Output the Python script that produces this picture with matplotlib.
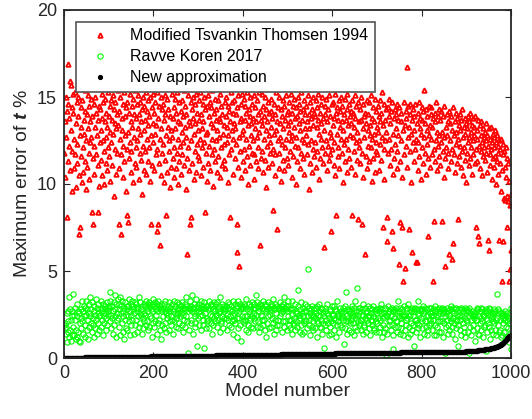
import numpy as np
import matplotlib
matplotlib.use("Agg")
import matplotlib.pyplot as plt

plt.rcParams['font.family'] = ['Liberation Sans', 'DejaVu Sans']
plt.rcParams['mathtext.fontset'] = 'custom'
plt.rcParams['mathtext.it'] = 'Liberation Sans:italic:bold'
plt.rcParams['mathtext.rm'] = 'Liberation Sans'

# max error per model (tenths of a percent), models 1..1000
red_tenths = [
    118,136,104,150,127,142,81,113,146,169,122,138,159,108,157,131,96,144,119,152,
    141,109,126,153,117,135,98,147,123,112,139,150,105,71,128,75,144,116,133,101,
    148,121,107,137,129,154,113,142,97,125,140,110,151,132,118,145,103,136,124,149,
    127,139,84,115,77,146,122,106,150,133,117,141,128,155,84,111,137,145,99,124,
    143,114,131,152,105,138,125,147,119,100,136,149,127,112,141,133,108,153,121,139,
    116,145,130,102,148,124,137,111,151,129,93,143,120,135,147,106,132,140,118,154,
    134,109,77,142,126,150,117,71,138,131,104,146,122,153,113,139,128,96,144,120,
    147,82,78,130,115,141,124,152,107,136,119,145,133,101,149,127,140,112,154,121,
    138,110,146,125,132,151,103,140,118,129,147,114,136,94,143,122,150,108,131,145,
    119,137,153,106,142,126,148,113,134,121,139,102,150,77,128,144,111,135,124,152,
    108,141,129,147,117,134,73,120,153,77,138,112,145,126,65,150,105,132,143,118,
    146,123,137,101,151,114,140,82,128,149,107,133,143,119,155,125,98,139,131,110,
    127,152,115,138,104,144,121,149,132,109,141,118,153,126,136,100,147,113,135,122,
    142,106,130,148,117,139,124,154,111,133,145,97,127,140,115,60,151,121,136,108,
    77,134,147,81,125,143,112,138,150,103,129,146,119,135,107,152,123,141,116,131,
    148,114,137,126,153,105,140,121,132,146,110,136,150,124,84,143,118,129,102,145,
    130,151,112,139,122,147,108,135,144,117,154,126,133,99,141,120,149,113,137,125,
    143,107,131,148,116,138,127,152,104,136,121,145,111,140,129,155,114,134,123,147,
    109,139,150,124,133,145,101,128,142,117,81,136,153,120,131,147,106,141,126,135,
    148,115,132,140,123,77,61,144,110,151,127,53,136,119,146,104,138,129,152,113,
    131,149,120,137,108,145,126,141,116,153,100,134,143,122,139,111,150,128,135,118,
    146,125,138,103,151,117,132,144,113,136,127,148,109,140,121,153,130,65,142,115,
    137,152,119,134,107,145,126,139,114,150,131,98,143,122,136,110,147,128,141,118,
    124,142,133,149,112,138,120,85,146,129,105,140,117,153,131,136,74,144,125,109,
    150,118,135,127,143,102,139,123,148,114,132,145,108,137,121,151,126,140,115,134,
    142,111,147,130,119,136,125,152,104,141,128,145,116,133,149,122,138,100,144,127,
    113,139,150,121,135,146,109,131,142,118,153,126,137,115,143,106,148,124,132,140,
    128,145,117,136,151,123,140,97,132,147,112,138,125,143,107,150,120,134,141,116,
    139,124,148,110,133,144,119,137,152,103,129,141,115,146,126,135,121,150,112,138,
    64,131,145,118,140,125,149,108,136,122,143,114,151,130,117,139,73,127,146,120,
    134,147,111,138,124,152,105,141,82,129,144,116,137,121,148,109,133,142,126,150,
    118,136,145,101,131,140,123,149,113,137,126,143,107,152,120,134,146,115,139,128,
    142,110,135,148,82,127,141,119,133,151,106,138,124,145,114,130,80,147,121,136,
    125,143,112,137,150,118,77,132,146,104,139,127,60,141,116,135,148,109,131,122,
    140,113,147,128,134,121,151,102,138,126,144,115,136,129,107,149,119,142,124,133,
    117,145,130,139,108,148,123,136,114,141,153,127,75,134,120,146,103,137,125,143,
    130,81,67,144,118,139,126,149,111,135,142,120,147,73,129,106,63,138,115,143,
    123,140,132,109,146,119,137,128,144,54,113,78,136,125,141,104,75,131,44,147,
    117,134,52,142,122,138,167,110,145,127,133,74,140,119,146,101,129,61,137,124,
    143,113,131,139,120,146,55,126,135,55,108,141,124,147,116,132,138,103,129,144,
    121,137,112,142,127,154,118,135,143,106,131,123,139,70,115,145,128,134,110,140,
    126,144,117,133,44,138,120,79,141,113,136,125,147,108,130,122,139,116,143,128,
    111,137,124,142,130,79,119,139,127,104,145,115,53,133,121,140,128,109,136,118,
    142,60,125,135,113,139,120,57,131,66,144,117,128,136,107,141,123,130,112,138,
    126,80,134,116,140,122,131,110,137,119,143,127,105,133,121,138,114,129,135,101,
    132,118,139,124,111,136,127,141,115,130,121,134,106,138,125,117,133,128,112,139,
    120,75,131,126,113,70,137,122,66,134,109,128,119,136,124,105,132,116,127,121,
    130,114,125,135,118,128,107,68,122,132,62,117,126,111,133,120,124,103,129,115,
    121,127,110,131,116,124,100,128,113,122,118,106,68,125,112,120,96,126,108,44,
    67,117,123,92,119,110,91,121,104,115,75,93,112,90,102,44,88,51,62,94,
]

green_tenths = [
    19,20,17,14,18,9,26,21,15,27,12,35,28,16,22,10,13,27,24,18,
    37,25,13,29,22,16,11,31,24,12,27,15,26,10,20,9,28,23,17,33,
    21,27,14,30,24,12,29,19,33,25,16,28,22,11,31,26,18,24,35,20,
    28,15,32,23,19,27,12,30,25,17,34,22,29,14,26,31,20,24,16,28,
    25,33,18,29,22,27,13,31,24,20,30,26,16,28,23,32,19,27,25,30,
    29,21,33,38,25,17,30,23,14,27,32,19,36,24,28,12,31,22,26,34,
    23,31,18,28,35,13,26,30,20,33,15,27,24,11,29,22,32,17,25,30,
    28,16,30,24,34,21,27,13,31,25,19,33,22,28,30,14,26,32,19,29,
    31,22,27,15,24,29,35,18,26,20,32,25,28,14,30,23,17,31,26,21,
    25,30,19,33,21,27,31,16,29,18,32,24,30,23,28,12,31,20,27,34,
    30,18,32,21,28,25,14,31,27,33,20,29,22,30,16,11,28,31,19,27,
    24,29,17,31,27,20,33,26,15,28,23,30,25,32,16,27,21,29,24,19,
    31,22,27,14,33,21,28,26,30,18,23,32,25,17,29,26,31,20,28,24,
    26,30,19,28,32,25,15,29,22,31,18,28,35,24,30,21,3,27,29,16,
    28,33,20,30,22,27,36,14,29,26,31,20,24,18,34,27,30,7,23,29,
    27,19,31,24,29,16,33,25,28,30,19,22,32,6,26,29,17,30,23,21,
    30,22,28,33,17,29,25,31,20,14,30,24,28,19,32,23,27,21,25,31,
    25,18,32,22,28,26,30,15,35,27,20,21,31,24,28,17,30,23,27,29,
    28,23,30,16,25,32,22,29,19,31,24,28,18,30,21,27,33,25,14,22,
    26,31,20,29,27,12,30,23,17,33,23,27,31,19,29,10,28,24,30,21,
    29,20,31,24,22,30,16,34,28,24,19,15,27,31,22,28,23,30,18,32,
    24,28,17,26,31,23,29,21,36,25,18,32,21,27,30,15,29,18,31,25,
    30,22,24,29,33,19,28,22,31,16,27,30,12,28,20,32,24,29,17,25,
    27,31,18,28,23,30,20,34,29,14,28,22,31,16,26,30,19,29,22,28,
    29,19,32,24,26,30,15,28,31,21,27,35,18,29,21,28,30,16,27,33,
    24,30,19,22,28,17,22,29,14,33,25,20,28,19,23,31,16,26,21,27,
    26,18,30,39,22,25,15,28,23,19,32,26,14,24,29,15,27,20,31,22,
    21,27,17,30,24,51,19,29,22,26,13,25,28,18,30,21,25,16,24,29,
    23,17,29,26,21,30,12,25,20,27,31,18,24,29,17,22,28,14,26,20,
    24,6,27,19,29,22,16,26,31,20,25,13,23,28,18,27,21,14,25,30,
    20,25,16,30,23,22,28,12,27,33,19,25,21,26,15,24,29,19,27,23,
    26,18,24,29,22,8,27,17,30,38,21,25,14,28,23,21,27,16,20,26,
    22,28,15,26,30,20,24,13,29,25,33,18,23,27,40,16,25,21,29,19,
    27,20,29,16,22,28,25,31,14,24,19,18,29,23,26,15,22,27,20,30,
    24,17,25,29,13,26,22,21,28,19,30,24,16,17,27,23,15,28,21,26,
    20,23,28,15,27,22,29,18,26,31,12,28,23,19,15,26,24,29,17,2,
    25,14,24,26,30,19,27,21,22,28,16,24,29,19,5,27,13,28,23,18,
    27,21,29,15,21,26,18,33,24,27,14,29,23,20,17,28,24,13,25,30,
    24,16,25,22,28,19,29,23,12,31,24,18,28,14,25,27,20,29,16,24,
    19,28,7,27,22,29,15,22,28,20,33,17,26,25,19,28,12,23,27,21,
    28,17,26,30,14,27,21,29,21,18,28,24,13,16,25,29,19,26,22,24,
    20,29,16,27,25,22,13,28,30,19,27,13,24,28,18,25,21,29,15,26,
    27,21,28,15,21,29,26,12,28,20,27,3,24,18,26,22,29,14,27,19,
    25,16,23,28,30,21,27,18,14,29,23,20,26,11,28,22,17,29,25,21,
    19,7,28,24,16,25,22,29,13,24,28,20,27,15,18,29,23,12,27,22,
    28,21,15,27,24,3,29,18,26,22,13,25,27,19,24,16,26,23,10,25,
    22,27,17,29,22,14,28,24,13,27,20,29,23,16,28,21,12,25,24,18,
    27,19,26,4,28,15,22,27,20,29,18,11,25,28,23,16,24,26,21,14,
    26,20,28,16,27,22,13,37,23,26,19,28,15,27,16,22,12,26,13,24,
    23,26,20,25,15,22,27,18,24,12,21,26,17,23,9,25,14,20,29,5,
]

# new approximation (hundredths of a percent), sorted: level -> number of models
black_levels = list(range(1, 38))
black_counts = [20,26,25,24,25,24,25,24,24,25,24,24,25,24,24,25,24,24,24,25,
                24,24,25,24,24,24,25,24,24,25,24,24,24,25,24,24,25]
black_tail = [38,38,38,38,38,39,39,39,39,39,40,40,40,40,40,41,41,41,41,42,42,
              42,42,43,43,43,43,44,44,44,44,45,45,45,46,46,46,47,47,47,48,48,
              49,49,49,50,50,50,51,51,52,52,53,53,54,54,55,55,56,57,57,58,
              59,60,60,61,62,63,64,65,66,67,68,69,70,71,72,
              74,76,78,80,82,84,86,88,90,93,
              96,99,102,105,108,111,114,117,120,123,125,127,129,131,133]

red = np.array(red_tenths) / 10
green = np.array(green_tenths) / 10
black = np.concatenate([np.repeat(black_levels, black_counts), black_tail]) / 100

fig = plt.figure(figsize=(5.32, 4.19), dpi=100)
ax = fig.add_axes([64/532, 1-358/419, 447/532, 348/419])

dark = '#262626'
ax.plot(np.arange(1, len(red)+1), red, '^', ls='none', ms=3.3, mew=1.3,
        mfc='none', mec='#ff0000', label='Modified Tsvankin Thomsen 1994')
ax.plot(np.arange(1, len(green)+1), green, 'o', ls='none', ms=3.8, mew=0.8,
        mfc='none', mec='#00ff00', label='Ravve Koren 2017')
ax.plot(np.arange(1, len(black)+1), black, '.', ls='none', ms=5.5,
        color='black', label='New approximation')

ax.set_xlim(0, 1000)
ax.set_ylim(0, 20)
ax.set_xticks([0, 200, 400, 600, 800, 1000])
ax.set_yticks([0, 5, 10, 15, 20])
ax.tick_params(direction='in', top=True, right=True, length=4, width=0.8,
               labelsize=13, colors=dark, pad=5)
for s in ax.spines.values():
    s.set_linewidth(1.3)
    s.set_color(dark)

ax.set_xlabel('Model number', fontsize=14, color=dark, labelpad=1)
ax.set_ylabel('Maximum error of $t$ %', fontsize=14, color=dark, labelpad=4)

leg = ax.legend(loc='upper left', bbox_to_anchor=(0.027, 0.966), borderaxespad=0,
                fontsize=11.5, frameon=True, fancybox=False, framealpha=1,
                edgecolor='#555555', handletextpad=0.8, handlelength=2.2,
                borderpad=0.4, labelspacing=0.38)
leg.get_frame().set_linewidth(1.2)

fig.savefig('out.png', dpi=100)
